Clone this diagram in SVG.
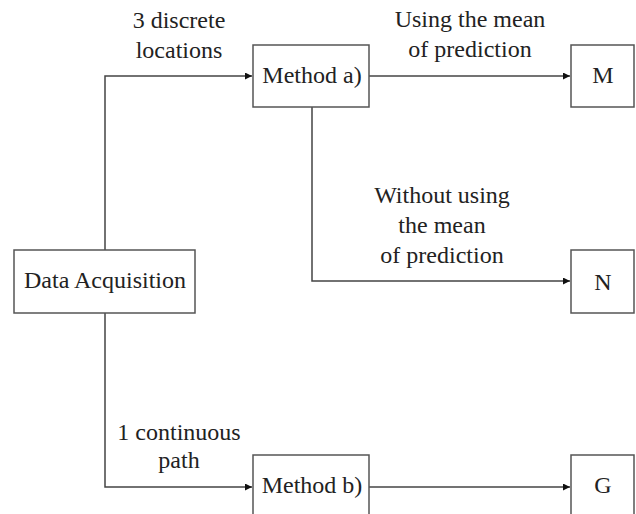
<svg xmlns="http://www.w3.org/2000/svg" width="636" height="514" viewBox="0 0 636 514">
<style>
.box{fill:#fff;stroke:#555;stroke-width:1.5}
.c{fill:none;stroke:#444;stroke-width:1.5}
text{font-family:"Liberation Serif","Times New Roman",serif;font-size:24px;fill:#222;text-anchor:middle}
</style>
<defs>
<marker id="ah" viewBox="0 0 10 10" refX="10" refY="5" markerWidth="8" markerHeight="7" markerUnits="userSpaceOnUse" orient="auto">
<path d="M0,0 L10,5 L0,10 z" fill="#111"/>
</marker>
</defs>
<rect width="636" height="514" fill="#fff"/>
<g id="connectors">
<path class="c" d="M105,250 V76 H252" marker-end="url(#ah)"/>
<path class="c" d="M369,76 H570" marker-end="url(#ah)"/>
<path class="c" d="M312,107 V281 H570" marker-end="url(#ah)"/>
<path class="c" d="M105,313 V487 H252" marker-end="url(#ah)"/>
<path class="c" d="M369,487 H570" marker-end="url(#ah)"/>
<text x="179" y="28">3 discrete</text>
<text x="179" y="58">locations</text>
<text x="470" y="27">Using the mean</text>
<text x="470" y="57">of prediction</text>
<text x="442" y="203">Without using</text>
<text x="442" y="233">the mean</text>
<text x="442" y="263">of prediction</text>
<text x="179" y="440">1 continuous</text>
<text x="179" y="468">path</text>
</g>
<g id="data-acquisition"><rect class="box" x="14" y="250" width="181" height="63"/><text x="105" y="288">Data Acquisition</text></g>
<g id="method-a"><rect class="box" x="253" y="45" width="116" height="62"/><text x="312" y="83">Method a)</text></g>
<g id="M"><rect class="box" x="571" y="45" width="63" height="62"/><text x="603" y="83">M</text></g>
<g id="N"><rect class="box" x="571" y="250" width="63" height="63"/><text x="603" y="290">N</text></g>
<g id="method-b"><rect class="box" x="253" y="455" width="116" height="70"/><text x="312" y="493">Method b)</text></g>
<g id="G"><rect class="box" x="571" y="455" width="63" height="70"/><text x="603" y="493">G</text></g>
</svg>
